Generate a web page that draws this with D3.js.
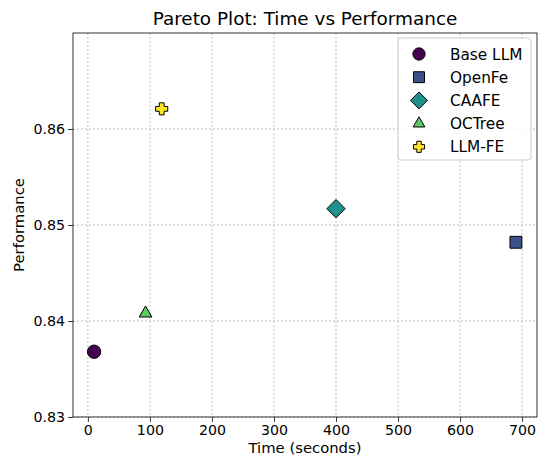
<!DOCTYPE html>
<html><head><meta charset="utf-8">
<script src="https://cdn.jsdelivr.net/npm/d3@7"></script>
<style>body{margin:0;background:#fff}svg{font-family:"DejaVu Sans",sans-serif}</style>
</head><body><svg id="c" width="545" height="457"></svg>
<script>
const methods = ["Base LLM","OpenFe","CAAFE","OCTree","LLM-FE"];
const times = [10, 690, 400, 93, 119];
const perf = [0.8368, 0.8482, 0.8517, 0.8408, 0.8621];
const colors = ["#440154","#3b528b","#21918c","#5ec962","#fde725"];
const shapes = ["circle","square","diamond","triangle","plus"];
const xTicks = [0,100,200,300,400,500,600,700];
const yTicks = [0.83,0.84,0.85,0.86];

const svg = d3.select("#c");
const L=73, R=537, T=33, B=417;
const x = d3.scaleLinear().domain([-24,724]).range([L,R]);
const y = d3.scaleLinear().domain([0.83,0.87]).range([B,T]);

function sym(shape, s){
  if(shape==="circle") return d3.symbol(d3.symbolCircle, s)();
  if(shape==="square") return d3.symbol(d3.symbolSquare, s)();
  if(shape==="diamond"){const r=Math.sqrt(s)*0.75;return `M0,${-r}L${r},0L0,${r}L${-r},0Z`;}
  if(shape==="triangle"){const r=Math.sqrt(s)*0.62;return `M0,${-r}L${r*0.87},${r*0.5}L${-r*0.87},${r*0.5}Z`;}
  if(shape==="plus"){const a=Math.sqrt(s)*0.52,b=a*0.4;return `M${-b},${-a}H${b}V${-b}H${a}V${b}H${b}V${a}H${-b}V${b}H${-a}V${-b}H${-b}Z`;}
}
const sizes = {circle:140,square:140,diamond:150,triangle:140,plus:135};

// grid
const g = svg.append("g");
g.selectAll(".gx").data(xTicks).join("line").attr("x1",d=>x(d)).attr("x2",d=>x(d)).attr("y1",T).attr("y2",B)
 .attr("stroke","#b0b0b0").attr("stroke-width",0.8).attr("stroke-dasharray","2,2");
g.selectAll(".gy").data(yTicks).join("line").attr("y1",d=>y(d)).attr("y2",d=>y(d)).attr("x1",L).attr("x2",R)
 .attr("stroke","#b0b0b0").attr("stroke-width",0.8).attr("stroke-dasharray","2,2");

// axes
const xa = svg.append("g").attr("transform",`translate(0,${B})`).call(d3.axisBottom(x).tickValues(xTicks).tickSize(4.9).tickSizeOuter(0).tickFormat(d3.format("d")));
const ya = svg.append("g").attr("transform",`translate(${L},0)`).call(d3.axisLeft(y).tickValues(yTicks).tickSize(4.9).tickSizeOuter(0).tickFormat(d3.format(".2f")));
[xa,ya].forEach(a=>{a.select(".domain").remove();a.selectAll("text").attr("font-size",14.2).attr("fill","#000").attr("font-family","DejaVu Sans");a.selectAll("line").attr("stroke","#000").attr("stroke-width",0.8);});
xa.selectAll("text").attr("dy","0.71em").attr("y",8);
ya.selectAll("text").attr("x",-8);

svg.append("rect").attr("x",L).attr("y",T).attr("width",R-L).attr("height",B-T).attr("fill","none").attr("stroke","#000").attr("stroke-width",0.8);

// points
methods.forEach((m,i)=>{
  svg.append("path").attr("d",sym(shapes[i],sizes[shapes[i]])).attr("transform",`translate(${x(times[i])},${y(perf[i])})`)
   .attr("fill",colors[i]).attr("stroke","#000").attr("stroke-width",1);
});

// labels
svg.append("text").attr("x",(L+R)/2).attr("y",25).attr("text-anchor","middle").attr("font-size",18.4).text("Pareto Plot: Time vs Performance");
svg.append("text").attr("x",(L+R)/2).attr("y",453).attr("text-anchor","middle").attr("font-size",14.8).text("Time (seconds)");
svg.append("text").attr("transform",`translate(24,${(T+B)/2}) rotate(-90)`).attr("text-anchor","middle").attr("font-size",14.8).text("Performance");

// legend
const lg = svg.append("g");
lg.append("rect").attr("x",398).attr("y",38).attr("width",133).attr("height",122).attr("rx",3)
  .attr("fill","#fff").attr("fill-opacity",0.8).attr("stroke","#ccc").attr("stroke-width",1);
methods.forEach((m,i)=>{
  const yy = 54 + i*23.2;
  lg.append("path").attr("d",sym(shapes[i],sizes[shapes[i]]*0.85)).attr("transform",`translate(419,${yy})`)
    .attr("fill",colors[i]).attr("stroke","#000").attr("stroke-width",1);
  lg.append("text").attr("x",450).attr("y",yy).attr("dy","0.36em").attr("font-size",15.3).text(m);
});
</script></body></html>
